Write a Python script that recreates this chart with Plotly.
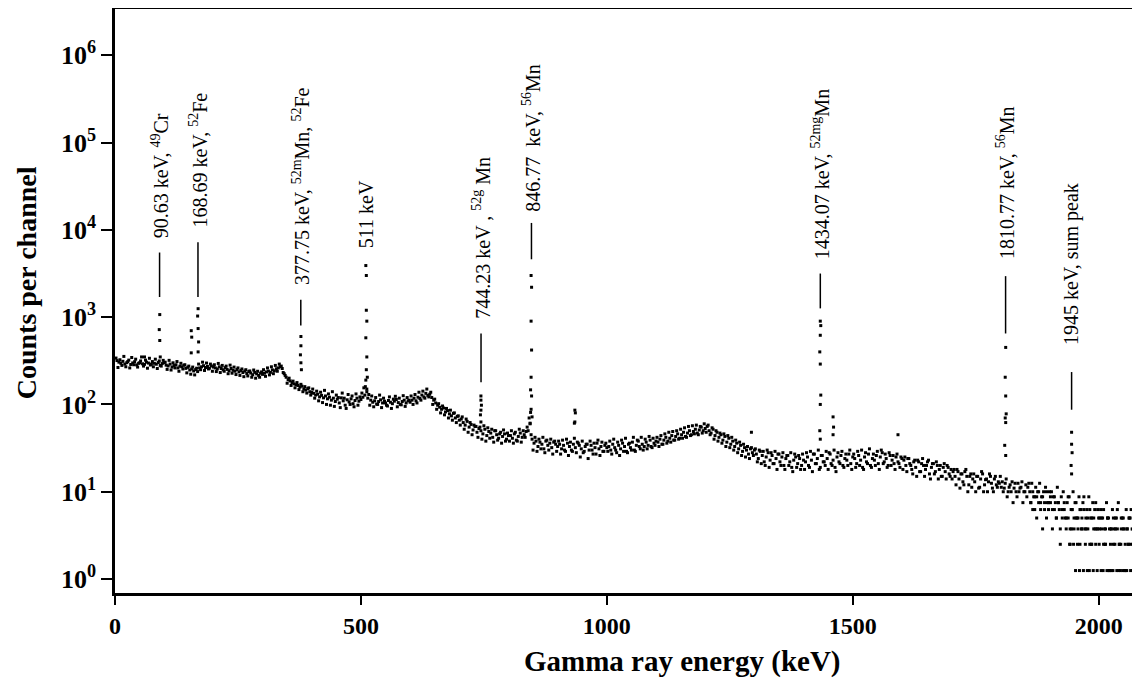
import math
import plotly.graph_objects as go

# ---------------- data ----------------
# Continuum counts per channel, one row per 100 keV, sampled every 4 keV.
# Set A: row k starts at 100*k + 4 keV ; set B: row k starts at 100*k + 2 keV
continuum_rows_a = [
    [318, 305, 296, 312, 290, 301, 322, 287, 299, 309, 284, 296, 315, 292, 288, 305, 298, 283, 310, 296, 289, 302, 280, 294, 301],
    [282, 276, 290, 268, 279, 285, 262, 274, 270, 281, 259, 266, 248, 255, 242, 251, 238, 262, 270, 278, 265, 272, 260, 276, 268],
    [262, 255, 270, 258, 249, 264, 252, 243, 258, 246, 240, 251, 236, 245, 232, 241, 226, 238, 229, 219, 233, 224, 215, 228, 221],
    [228, 236, 241, 233, 249, 243, 256, 262, 270, 258, 225, 205, 192, 186, 178, 172, 168, 165, 158, 162, 150, 146, 152, 140, 137],
    [134, 128, 131, 122, 127, 119, 125, 116, 121, 112, 118, 108, 115, 104, 119, 110, 98, 113, 107, 116, 102, 111, 118, 109, 114],
    [121, 128, 140, 130, 112, 106, 110, 101, 108, 113, 104, 109, 98, 111, 106, 102, 109, 114, 105, 100, 108, 112, 104, 110, 106],
    [112, 118, 110, 121, 117, 128, 122, 134, 127, 131, 120, 112, 104, 98, 93, 88, 91, 82, 85, 78, 74, 79, 70, 73, 66],
    [68, 62, 58, 64, 55, 59, 51, 56, 48, 53, 50, 46, 52, 44, 49, 47, 42, 50, 45, 41, 48, 43, 46, 40, 44],
    [44, 41, 46, 39, 43, 47, 42, 45, 49, 50, 60, 40, 36, 38, 33, 37, 35, 31, 38, 34, 36, 32, 37, 35, 33],
    [35, 31, 34, 29, 36, 33, 30, 35, 32, 37, 34, 31, 28, 33, 35, 30, 34, 27, 32, 36, 31, 33, 29, 34, 32],
    [33, 30, 35, 32, 28, 34, 31, 36, 33, 29, 35, 32, 37, 30, 34, 38, 31, 35, 33, 37, 34, 39, 32, 36, 38],
    [37, 40, 35, 39, 42, 38, 41, 44, 39, 43, 46, 41, 45, 48, 43, 47, 50, 45, 49, 52, 47, 51, 55, 50, 53],
    [56, 50, 47, 52, 44, 48, 42, 45, 39, 43, 37, 41, 35, 38, 33, 36, 31, 34, 29, 32, 30, 27, 31, 28, 30],
    [27, 24, 29, 26, 22, 25, 28, 23, 26, 21, 24, 27, 22, 25, 20, 24, 26, 22, 19, 23, 25, 21, 24, 20, 23],
    [22, 25, 19, 23, 27, 21, 24, 18, 26, 22, 20, 24, 28, 21, 23, 19, 25, 22, 26, 20, 24, 23, 27, 21, 25],
    [24, 21, 26, 23, 19, 25, 22, 27, 20, 24, 23, 26, 21, 25, 28, 22, 24, 20, 26, 23, 21, 25, 22, 19, 24],
    [23, 20, 24, 21, 18, 22, 19, 23, 17, 21, 20, 18, 22, 16, 19, 21, 17, 20, 18, 15, 19, 17, 20, 16, 18],
    [17, 15, 18, 14, 16, 13, 17, 15, 12, 16, 14, 13, 15, 11, 14, 16, 12, 14, 13, 15, 11, 14, 12, 13, 15],
    [13, 11, 14, 10, 12, 13, 11, 10, 12.5, 11, 13, 10, 12, 11.25, 10, 12.5, 8.75, 11.25, 10, 12.5, 8.75, 10, 11.25, 7.5, 10],
    [10, 8.75, 7.5, 11.25, 6.25, 8.75, 10, 5, 7.5, 8.75, 6.25, 10, 7.5, 5, 8.75, 6.25, 7.5, 3.75, 6.25, 8.75, 5, 7.5, 6.25, 3.75, 5],
    [6.25, 5, 3.75, 7.5, 5, 2.5, 6.25, 3.75, 5, 7.5, 1.25, 5, 3.75, 6.25, 2.5, 5, 3.75, 1.25, 5, 3.75],
]
continuum_rows_b = [
    [340, 265, 325, 280, 355, 270, 310, 262, 345, 285, 330, 268, 300, 350, 275, 322, 260, 338, 290, 270, 330, 258, 315, 275, 320],
    [305, 252, 320, 248, 300, 262, 310, 240, 296, 255, 285, 230, 275, 222, 268, 218, 260, 290, 250, 305, 245, 298, 255, 290, 240],
    [285, 238, 295, 232, 280, 240, 275, 225, 282, 228, 268, 220, 262, 215, 255, 208, 250, 212, 242, 205, 248, 200, 240, 205, 236],
    [250, 210, 262, 218, 270, 225, 280, 240, 290, 275, 232, 215, 175, 200, 165, 185, 155, 178, 148, 170, 140, 160, 135, 155, 128],
    [150, 118, 142, 110, 138, 105, 145, 100, 132, 98, 140, 95, 128, 120, 92, 135, 118, 90, 130, 100, 125, 94, 132, 98, 122],
    [135, 155, 190, 118, 98, 125, 94, 120, 100, 128, 92, 118, 104, 96, 122, 90, 115, 124, 94, 118, 99, 126, 95, 120, 112],
    [125, 100, 130, 104, 138, 112, 142, 118, 150, 122, 138, 100, 115, 88, 102, 80, 96, 76, 90, 70, 86, 66, 80, 62, 74],
    [58, 72, 52, 68, 48, 62, 45, 58, 56, 42, 55, 40, 57, 38, 54, 41, 52, 37, 50, 39, 46, 36, 51, 38, 47],
    [38, 50, 36, 48, 38, 52, 37, 50, 42, 55, 70, 45, 30, 42, 29, 40, 31, 42, 28, 39, 30, 40, 27, 38, 29],
    [38, 27, 39, 30, 40, 26, 37, 29, 41, 28, 36, 25, 38, 29, 35, 24, 38, 30, 36, 27, 39, 26, 37, 29, 36],
    [29, 38, 27, 40, 30, 37, 26, 39, 29, 41, 28, 36, 30, 42, 29, 39, 33, 42, 30, 40, 31, 43, 33, 41, 34],
    [42, 33, 44, 35, 46, 36, 48, 37, 49, 39, 50, 40, 52, 41, 54, 42, 56, 44, 57, 46, 58, 45, 56, 47, 60],
    [48, 58, 45, 54, 40, 50, 38, 47, 36, 46, 33, 44, 32, 42, 30, 39, 28, 37, 26, 35, 25, 33, 24, 32, 26],
    [31, 22, 30, 21, 29, 20, 30, 19, 28, 21, 29, 18, 27, 20, 28, 18, 26, 20, 28, 17, 27, 19, 26, 18, 27],
    [18, 28, 20, 29, 17, 27, 21, 30, 19, 26, 22, 29, 18, 27, 20, 30, 17, 28, 21, 29, 19, 27, 20, 30, 18],
    [27, 19, 29, 20, 30, 18, 28, 21, 31, 19, 27, 20, 29, 18, 30, 21, 27, 19, 28, 20, 26, 18, 27, 21, 25],
    [18, 25, 17, 24, 20, 16, 23, 15, 22, 17, 24, 15, 20, 23, 14, 21, 16, 22, 14, 20, 15, 21, 14, 19, 15],
    [14, 18, 12, 17, 11, 16, 12, 18, 10, 15, 11.25, 16, 10, 15, 11.25, 17, 10, 13.75, 10, 16, 12.5, 10, 15, 11.25, 12.5],
    [11.25, 10, 12.5, 8.75, 11.25, 10, 7.5, 12.5, 8.75, 10, 11.25, 7.5, 10, 8.75, 12.5, 7.5, 10, 6.25, 8.75, 10, 7.5, 8.75, 6.25, 10, 7.5],
    [7.5, 6.25, 8.75, 5, 7.5, 3.75, 6.25, 7.5, 5, 8.75, 3.75, 6.25, 5, 7.5, 3.75, 6.25, 5, 8.75, 3.75, 5, 6.25, 2.5, 5, 7.5, 3.75],
    [5, 3.75, 6.25, 2.5, 5, 3.75, 1.25, 5, 3.75, 6.25, 2.5, 3.75, 5, 2.5, 3.75, 5, 6.25, 2.5, 3.75, 5],
]

# Low-count tail (quantised levels), extra channels every 4 keV
tail_a_start = 1862
tail_a = [7.5, 6.25, 8.75, 5, 7.5, 6.25, 3.75, 7.5, 5, 6.25, 8.75, 3.75, 6.25, 5, 7.5, 2.5, 5, 6.25, 3.75, 5,
          2.5, 6.25, 3.75, 5, 5, 2.5, 3.75, 6.25, 5, 3.75, 2.5, 5, 3.75, 2.5, 6.25, 3.75, 5, 2.5, 3.75, 5,
          1.25, 3.75, 2.5, 5, 3.75, 2.5, 5, 3.75, 1.25, 3.75, 5, 2.5, 3.75, 5, 2.5]
tail_b_start = 1941
tail_b = [2.5, 3.75, 2.5, 1.25, 2.5, 1.25, 3.75, 1.25, 2.5, 1.25, 1.25, 2.5, 1.25, 3.75, 1.25, 2.5, 1.25, 1.25,
          2.5, 1.25, 1.25, 3.75, 1.25, 2.5, 1.25, 1.25, 2.5, 1.25, 1.25, 1.25, 2.5, 1.25, 1.25, 2.5, 1.25]

# Photo-peak channels (energy keV, counts)
peak_energy = [91, 90, 91, 92,
               169, 168, 169, 170, 169, 155, 156, 155,
               378, 378, 377, 378, 379,
               510, 511, 511, 512, 510, 512, 511, 513, 509, 512,
               744, 744, 745, 744, 743, 744,
               846, 847, 846, 847, 846, 845, 847, 846, 845, 848, 844,
               935, 936, 935, 934,
               1434, 1435, 1434, 1433, 1434, 1435, 1434, 1433, 1434,
               1460, 1461, 1460,
               1811, 1810, 1811, 1812, 1810, 1811, 1809, 1811,
               1945, 1945, 1946, 1944, 1945,
               1294, 1592, 60]
peak_counts = [1070, 720, 540, 350,
               1250, 1030, 740, 520, 400, 700, 590, 390,
               600, 470, 370, 300, 250,
               3900, 3000, 1200, 900, 580, 350, 250, 205, 160, 150,
               125, 112, 98, 86, 76, 63,
               3000, 2200, 900, 420, 205, 147, 125, 88, 81, 72, 61,
               86, 80, 63, 61,
               900, 800, 620, 400, 290, 128, 100, 50, 40,
               72, 55, 45,
               450, 205, 125, 78, 70, 62, 34, 26,
               48, 35, 28, 20, 16,
               48, 45, 350]

# Peak labels
label_energy = [90.63, 168.69, 377.75, 511, 744.23, 846.77, 1434.07, 1810.77, 1945]
label_text = [
    "90.63 keV, <sup>49</sup>Cr",
    "168.69 keV, <sup>52</sup>Fe",
    "377.75 keV, <sup>52m</sup>Mn, <sup>52</sup>Fe",
    "511 keV",
    "744.23 keV , <sup>52g</sup> Mn",
    "846.77  keV, <sup>56</sup>Mn",
    "1434.07 keV, <sup>52mg</sup>Mn",
    "1810.77 keV, <sup>56</sup>Mn",
    "1945 keV, sum peak",
]
label_base = [7600, 10200, 2200, 5900, 910, 15500, 4400, 4400, 450]   # counts at text bottom
line_low = [1700, 1700, 800, None, 180, 4600, 1260, 650, 87]
line_high = [5500, 7200, 1580, None, 650, 12000, 3160, 2950, 235]

x_ticks = [0, 500, 1000, 1500, 2000]
y_ticks = [1, 10, 100, 1000, 10000, 100000, 1000000]
y_tick_text = ["10<sup>%d</sup>" % p for p in range(7)]

# ---------------- build ----------------
xs, ys = [], []
for rows, start in ((continuum_rows_a, 4), (continuum_rows_b, 2)):
    for k, row in enumerate(rows):
        for j, v in enumerate(row):
            xs.append(100 * k + start + 4 * j)
            ys.append(v)
for j, v in enumerate(tail_a):
    xs.append(tail_a_start + 4 * j)
    ys.append(v)
for j, v in enumerate(tail_b):
    xs.append(tail_b_start + 4 * j)
    ys.append(v)
xs += peak_energy
ys += peak_counts

SERIF = "Liberation Serif, Times New Roman, serif"

fig = go.Figure()
fig.add_trace(go.Scatter(
    x=xs, y=ys, mode="markers",
    marker=dict(symbol="square", size=3, color="black", line=dict(width=0)),
    showlegend=False, hoverinfo="skip"))

lx, ly = [], []
for e, lo, hi in zip(label_energy, line_low, line_high):
    if lo is None:
        continue
    lx += [e, e, None]
    ly += [lo, hi, None]
fig.add_trace(go.Scatter(x=lx, y=ly, mode="lines", line=dict(color="black", width=1.5),
                         showlegend=False, hoverinfo="skip"))

annotations = []
for e, t, b in zip(label_energy, label_text, label_base):
    annotations.append(dict(x=e, y=math.log10(b), xref="x", yref="y", text=t,
                            textangle=-90, showarrow=False, xanchor="center", yanchor="bottom",
                            font=dict(family=SERIF, size=20, color="black")))
annotations.append(dict(x=0.555, y=-0.118, xref="paper", yref="paper",
                        text="Gamma ray energy (keV)", showarrow=False,
                        xanchor="center", yanchor="middle",
                        font=dict(family=SERIF, size=29, color="black", weight="bold")))
annotations.append(dict(x=-0.087, y=0.532, xref="paper", yref="paper",
                        text="Counts per channel", showarrow=False, textangle=-90,
                        xanchor="center", yanchor="middle",
                        font=dict(family=SERIF, size=28, color="black", weight="bold")))

# The page body adds an 8px offset, so the figure is 8px smaller on each side.
fig.update_layout(
    width=1132, height=676,
    margin=dict(l=107, r=2, t=1, b=91),
    paper_bgcolor="white", plot_bgcolor="white",
    annotations=annotations,
    xaxis=dict(range=[0, 2080], tickvals=x_ticks, ticks="outside", ticklen=9, tickwidth=2,
               tickcolor="black", showline=True, linewidth=2.5, linecolor="black", mirror=True,
               showgrid=False, zeroline=False, automargin=False,
               tickfont=dict(family=SERIF, size=24, color="black", weight="bold")),
    yaxis=dict(type="log", range=[-0.16, 6.53], tickvals=y_ticks, ticktext=y_tick_text,
               ticks="outside", ticklen=11, tickwidth=2, tickcolor="black",
               showline=True, linewidth=2.5, linecolor="black", mirror=True,
               showgrid=False, zeroline=False, automargin=False,
               tickfont=dict(family=SERIF, size=26, color="black", weight="bold")),
)

fig.write_html("out.html")
